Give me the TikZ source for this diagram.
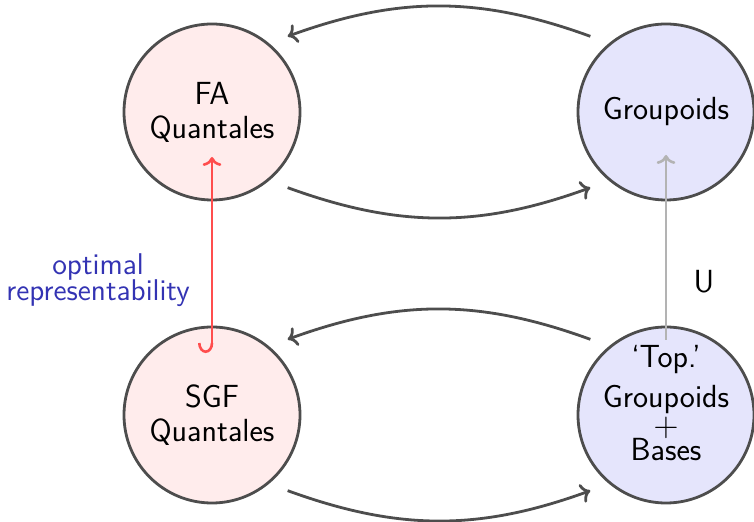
\documentclass[tikz,border=0pt]{standalone}
\usepackage{amsmath,amssymb}
\usepackage{fontspec}
\usepackage{xcolor}
\usepackage{tikz}
\usetikzlibrary{arrows.meta, positioning}
\usetikzlibrary{calc}

\definecolor{rimgray}{RGB}{77,77,77}
\definecolor{quantfill}{RGB}{255,236,236}
\definecolor{grpdfill}{RGB}{229,229,252}
\definecolor{reprblue}{RGB}{51,51,179}
\definecolor{reprred}{RGB}{255,77,77}
\definecolor{forgetgray}{RGB}{179,179,179}

\tikzset{
  blob/.style={circle, draw=rimgray, line width=1.4pt, minimum size=88pt,
    inner sep=0pt, outer sep=9.5pt},
  quant/.style={blob, fill=quantfill},
  grpd/.style={blob, fill=grpdfill},
  bigtext/.style={font=\sffamily\fontsize{16}{17}\selectfont, align=center},
  smalltext/.style={font=\sffamily\fontsize{15}{17}\selectfont, align=center},
  bendarrow/.style={->, draw=rimgray, line width=1.4pt},
}

\begin{document}
\begin{tikzpicture}[x=0.5pt, y=-0.5pt]
            \useasboundingbox (0,0) rectangle (754,522);
            \node[quant, bigtext](fa) at (212,112) {FA\\Quantales};
            \node[grpd, bigtext](gr) at (666,112) {Groupoids};
            \node[quant, bigtext](sgf) at (212,415) {SGF\\Quantales};
            \node[grpd](tgr) at (666,415) {};
            \node[bigtext](tgrtext) at ($(tgr.center)+(0,-12)$)
              {‘Top.’\\[3pt]Groupoids\\[-2.5pt]$+$\\[-5pt]Bases};
            \draw[bendarrow] (gr.135) to[bend right=20] (fa.45);
            \draw[bendarrow] (fa.-45) to[bend right=20] (gr.-135);
            \draw[bendarrow] (tgr.135) to[bend right=20] (sgf.45);
            \draw[bendarrow] (sgf.-45) to[bend right=20] (tgr.-135);
            \draw[->, draw=forgetgray, line width=1.3pt, shorten <=37.5pt, shorten >=21.5pt]
              (tgr.center) -- (gr.center);
            \draw[{Hooks[right,length=5pt,width=14pt]}->, draw=reprred, line width=1.3pt,
              shorten <=31pt, shorten >=22.5pt] (sgf.center) -- (fa.center);
            \node[smalltext, text=reprblue](optlbl) at (98,280) {optimal\\[-4pt]representability};
            \node[bigtext](ulbl) at (704,282) {U};
        \end{tikzpicture}
\end{document}
